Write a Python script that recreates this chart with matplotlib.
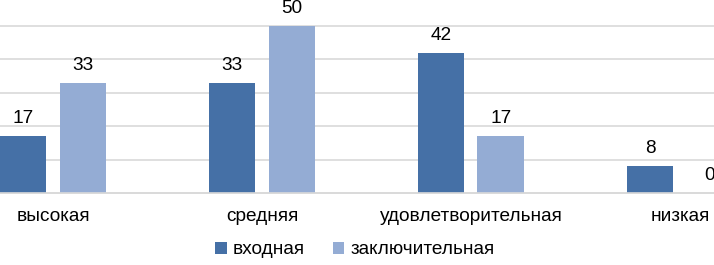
import matplotlib.pyplot as plt
import numpy as np

plt.rcParams['font.family'] = ['Liberation Sans', 'DejaVu Sans']

categories = ['высокая', 'средняя', 'удовлетворительная', 'низкая']
entry = [17, 33, 42, 8]
final = [33, 50, 17, 0]
series_names = ['входная', 'заключительная']

dark = '#4570a6'
light = '#94acd4'
grid_c = '#d9d9d9'
fs = 13.7

fig = plt.figure(figsize=(7.14, 2.65), dpi=100)
ax = fig.add_axes([0, 1 - 193 / 265, 1, (193 - 26) / 265])

x = np.arange(len(categories))
w = 0.2225
off = 0.1425
b1 = ax.bar(x - off, entry, w, color=dark, label=series_names[0], zorder=2)
b2 = ax.bar(x + off, final, w, color=light, label=series_names[1], zorder=2)
ax.bar_label(b1, padding=6.5, fontsize=fs, clip_on=False)
ax.bar_label(b2, padding=6.5, fontsize=fs, clip_on=False)

ax.set_xlim(-0.2536, 3.163)
ax.set_ylim(0, 50)
ax.set_yticks(range(0, 51, 10))
ax.set_yticklabels([])
ax.tick_params(axis='y', length=0)
ax.yaxis.grid(True, color=grid_c, linewidth=1.2, zorder=0, clip_on=False)
ax.set_axisbelow(True)

ax.set_xticks(x)
ax.set_xticklabels(categories, fontsize=fs)
ax.tick_params(axis='x', length=0, pad=10.5)

for s in ['top', 'left', 'right']:
    ax.spines[s].set_visible(False)
ax.spines['bottom'].set_color(grid_c)
ax.spines['bottom'].set_linewidth(1.2)

fig.legend(loc='center', bbox_to_anchor=(0.497, 1 - 250 / 265), ncol=2,
           frameon=False, fontsize=fs, handlelength=0.6, handleheight=0.6,
           handletextpad=0.3, columnspacing=1.5)

fig.savefig('out.png', dpi=100)
